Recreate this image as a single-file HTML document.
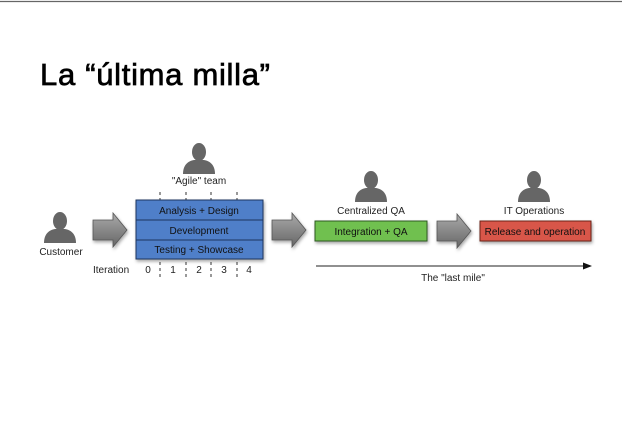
<!DOCTYPE html>
<html><head><meta charset="utf-8"><style>
html,body{margin:0;padding:0;background:#fff;}
svg{display:block;font-family:"Liberation Sans",sans-serif;}
</style></head><body>
<svg width="622" height="442" viewBox="0 0 622 442" xmlns="http://www.w3.org/2000/svg">
<defs>
<g id="p"><ellipse cx="0" cy="8" rx="7" ry="9" fill="#666"/><path d="M-16,30 C-16,21 -11,17 -5,16 L5,16 C11,17 16,21 16,30 Z" fill="#666"/></g>
<linearGradient id="ag" x1="0" y1="0" x2="0" y2="1"><stop offset="0" stop-color="#aaa"/><stop offset="1" stop-color="#666"/></linearGradient>
<filter id="sh" x="-20%" y="-20%" width="150%" height="160%"><feDropShadow dx="1" dy="2" stdDeviation="1.5" flood-opacity="0.35"/></filter>
</defs>
<rect x="0" y="0" width="622" height="442" fill="#fff"/>
<line x1="0" y1="1.5" x2="622" y2="1.5" stroke="#666" stroke-width="1.2"/>
<text x="40" y="85" font-size="31" fill="#000" stroke="#000" stroke-width="0.7" textLength="230">La “última milla”</text>

<use href="#p" transform="translate(60,213)"/>
<text x="61" y="255" font-size="10" text-anchor="middle" fill="#222">Customer</text>
<use href="#p" transform="translate(199,144)"/>
<text x="199" y="184" font-size="10" text-anchor="middle" fill="#222">"Agile" team</text>
<use href="#p" transform="translate(371,172)"/>
<text x="371" y="214" font-size="10" text-anchor="middle" fill="#222">Centralized QA</text>
<use href="#p" transform="translate(534,172)"/>
<text x="534" y="214" font-size="10" text-anchor="middle" fill="#222">IT Operations</text>

<g fill="url(#ag)" stroke="#555" stroke-width="0.8" filter="url(#sh)">
<path d="M93,220 L113,220 L113,213 L127,230 L113,247 L113,240 L93,240 Z"/>
<path d="M272,220 L292,220 L292,213 L306,230 L292,247 L292,240 L272,240 Z"/>
<path d="M437,221 L457,221 L457,214 L471,231 L457,248 L457,241 L437,241 Z"/>
</g>

<g stroke="#333" stroke-width="1" stroke-dasharray="3,3">
<line x1="160" y1="192" x2="160" y2="200"/><line x1="186" y1="192" x2="186" y2="200"/>
<line x1="211" y1="192" x2="211" y2="200"/><line x1="237" y1="192" x2="237" y2="200"/>
<line x1="160" y1="262" x2="160" y2="278"/><line x1="186" y1="262" x2="186" y2="278"/>
<line x1="211" y1="262" x2="211" y2="278"/><line x1="237" y1="262" x2="237" y2="278"/>
</g>
<rect x="136" y="200" width="127" height="59" fill="#4f7fc9" stroke="#1e3560" stroke-width="1" filter="url(#sh)"/>
<line x1="136" y1="220" x2="263" y2="220" stroke="#1e3560"/>
<line x1="136" y1="240" x2="263" y2="240" stroke="#1e3560"/>
<g font-size="10" text-anchor="middle" fill="#111">
<text x="199" y="214">Analysis + Design</text>
<text x="199" y="234">Development</text>
<text x="199" y="253">Testing + Showcase</text>
</g>
<g font-size="10" fill="#222">
<text x="93" y="273">Iteration</text>
<text x="148" y="273" text-anchor="middle">0</text>
<text x="173" y="273" text-anchor="middle">1</text>
<text x="199" y="273" text-anchor="middle">2</text>
<text x="224" y="273" text-anchor="middle">3</text>
<text x="249" y="273" text-anchor="middle">4</text>
</g>

<rect x="315" y="221" width="112" height="20" fill="#6fc04f" stroke="#2f5a22" stroke-width="1" filter="url(#sh)"/>
<text x="371" y="235" font-size="10" text-anchor="middle" fill="#111">Integration + QA</text>
<rect x="480" y="221" width="111" height="20" fill="#d8574a" stroke="#6a2019" stroke-width="1" filter="url(#sh)"/>
<text x="535" y="235" font-size="10" text-anchor="middle" fill="#111">Release and operation</text>

<line x1="316" y1="266" x2="585" y2="266" stroke="#222" stroke-width="1"/>
<path d="M592,266 L583,262.5 L583,269.5 Z" fill="#111"/>
<text x="453" y="281" font-size="10" text-anchor="middle" fill="#222">The "last mile"</text>
</svg>
</body></html>
